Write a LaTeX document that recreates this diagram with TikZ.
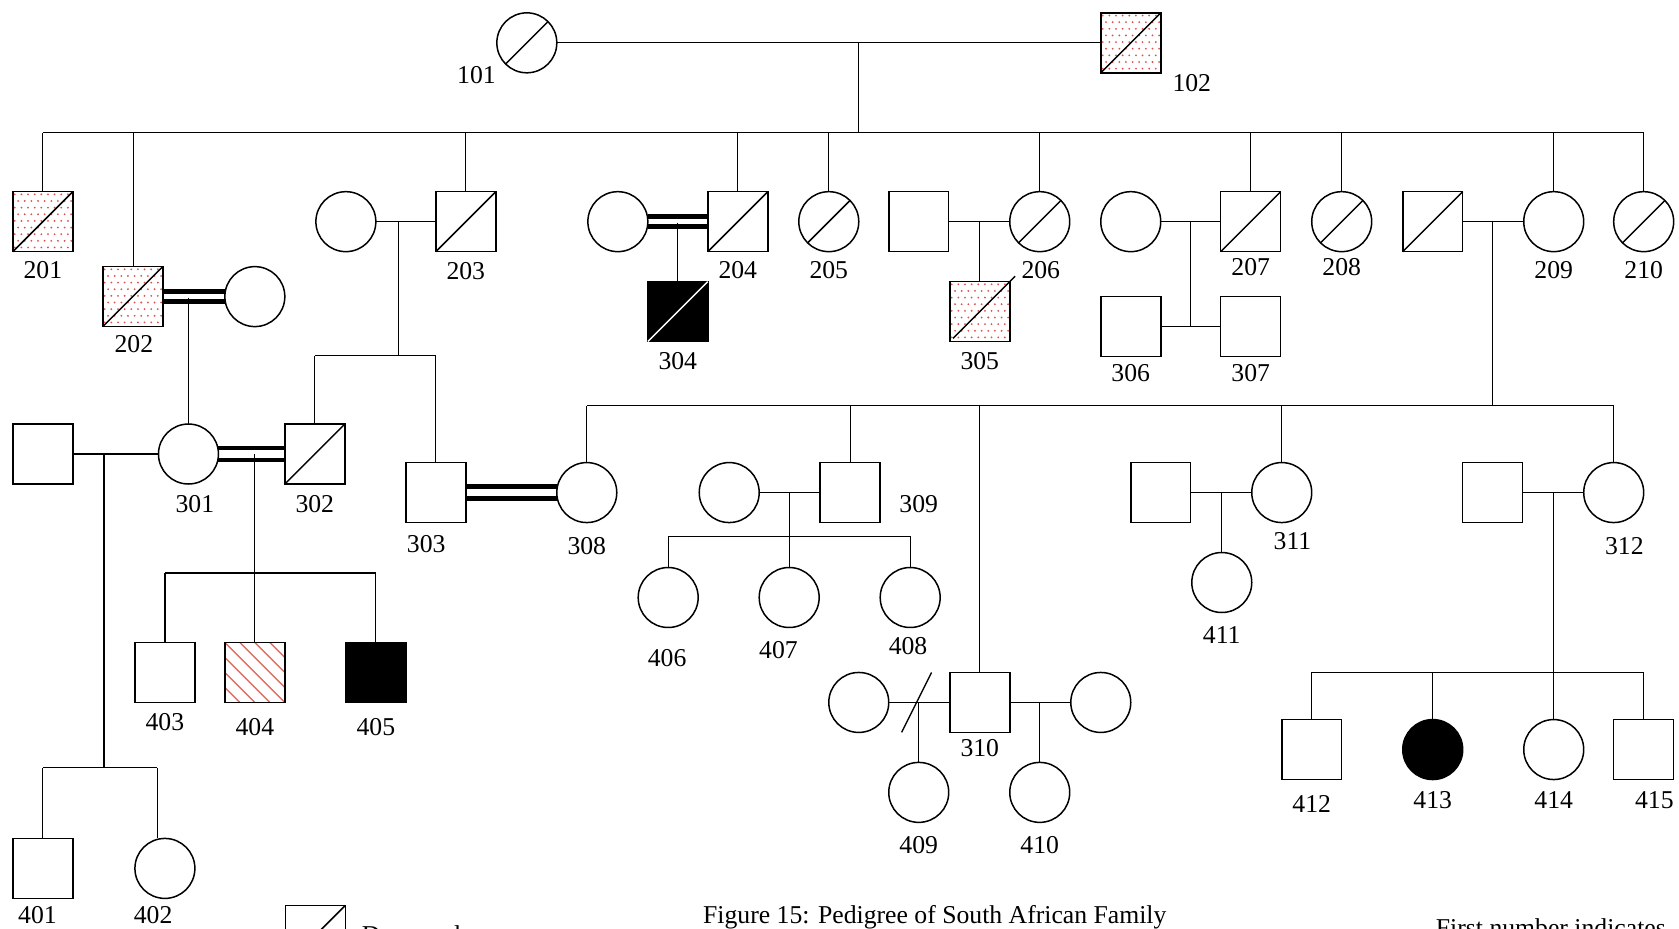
\documentclass[tikz,border=0pt]{standalone}
\usepackage{fontspec}
\setmainfont{Liberation Serif}
\usetikzlibrary{calc}
\definecolor{dotred}{RGB}{222,80,80}
\definecolor{hatchred}{RGB}{225,110,100}
\newcommand\pedDots[1]{%
  \begin{scope}
    \clip (#1.south west) rectangle (#1.north east);
    \foreach \r in {0,...,9}{
      \foreach \c in {0,...,9}{
        \fill[dotred] ($(#1.north west)+({\c*6.2+1.8+mod(\r,2)*3.1},{\r*6.2+2.5})$) circle[radius=0.95pt];
      }
    }
  \end{scope}}
\newcommand\pedHatch[1]{%
  \begin{scope}
    \clip (#1.south west) rectangle (#1.north east);
    \foreach \k in {-56,-42,...,56}{
      \draw[hatchred,line width=1.4pt] ($(#1.north west)+(\k,0)$) -- ++(56,56);
    }
  \end{scope}}
\newcommand\pedBox[1]{\draw[symline] (#1.south west) rectangle (#1.north east);}
\newcommand\pedSlash[1]{\draw[symline] (#1.south west) -- (#1.north east);}
\begin{document}
\begin{tikzpicture}[x=1pt,y=-1pt,
  every node/.style={inner sep=0pt, outer sep=0pt},
  symline/.style={line width=1.4pt},
  sq/.style={draw, rectangle, minimum size=56pt, line width=1.4pt, fill=white},
  ci/.style={draw, circle, minimum size=56pt, line width=1.4pt, fill=white},
  lbl/.style={font=\fontsize{24}{28}\selectfont},
  ln/.style={line width=1.2pt},
  cons/.style={line width=4.4pt},
]
\useasboundingbox (0,0) rectangle (1568,867);
\clip (0,0) rectangle (1568,867);
\fill[white] (0,0) rectangle (1568,867);

% ---------- Generation I
\node[ci] (n101) at (492,40) {};
\pedSlash{n101}
\node[sq] (n102) at (1056,40) {};
\pedDots{n102}\pedBox{n102}\pedSlash{n102}

% ---------- Generation II
\node[sq] (n201) at (40,207) {};
\pedDots{n201}\pedBox{n201}\pedSlash{n201}
\node[sq] (n202) at (124,277) {};
\pedDots{n202}\pedBox{n202}\pedSlash{n202}
\node[ci] (s202) at (238,277) {};
\node[sq] (n203) at (435,207) {};
\pedSlash{n203}
\node[ci] (s203) at (323,207) {};
\node[sq] (n204) at (689,207) {};
\pedSlash{n204}
\node[ci] (s204) at (577,207) {};
\node[ci] (n205) at (774,207) {};
\pedSlash{n205}
\node[ci] (n206) at (971,207) {};
\pedSlash{n206}
\node[sq] (s206) at (858,207) {};
\node[sq] (n207) at (1168,207) {};
\pedSlash{n207}
\node[ci] (s207) at (1056,207) {};
\node[ci] (n208) at (1253,207) {};
\pedSlash{n208}
\node[ci] (n209) at (1451,207) {};
\node[sq] (s209) at (1338,207) {};
\pedSlash{s209}
\node[ci] (n210) at (1535,207) {};
\pedSlash{n210}

% ---------- Generation III
\node[ci] (n301) at (176,424) {};
\node[sq] (s301) at (40,424) {};
\node[sq] (n302) at (294,424) {};
\pedSlash{n302}
\node[sq] (n303) at (407,460) {};
\node[sq, fill=black] (n304) at (633,291) {};
\draw[white, line width=1.4pt] (n304.south west) -- (n304.north east);
\node[sq] (n305) at (915,291) {};
\pedDots{n305}\pedBox{n305}
\draw[symline] ($(n305.south west)+(3,-3)$) -- ($(n305.north east)+(5,-5)$);
\node[sq] (n306) at (1056,305) {};
\node[sq] (n307) at (1168,305) {};
\node[ci] (n308) at (548,460) {};
\node[sq] (n309) at (794,460) {};
\node[ci] (s309) at (681,460) {};
\node[sq] (n310) at (915,656) {};
\node[ci] (s310a) at (802,656) {};
\node[ci] (s310b) at (1028,656) {};
\node[ci] (n311) at (1197,460) {};
\node[sq] (s311) at (1084,460) {};
\node[ci] (n312) at (1507,460) {};
\node[sq] (s312) at (1394,460) {};

% ---------- Generation IV
\node[sq] (n401) at (40,811) {};
\node[ci] (n402) at (154,811) {};
\node[sq] (n403) at (154,628) {};
\node[sq] (n404) at (238,628) {};
\pedHatch{n404}\pedBox{n404}
\node[sq, fill=black] (n405) at (351,628) {};
\node[ci] (n406) at (624,558) {};
\node[ci] (n407) at (737,558) {};
\node[ci] (n408) at (850,558) {};
\node[ci] (n409) at (858,740) {};
\node[ci] (n410) at (971,740) {};
\node[ci] (n411) at (1141,544) {};
\node[sq] (n412) at (1225,700) {};
\node[ci, fill=black] (n413) at (1338,700) {};
\node[ci] (n414) at (1451,700) {};
\node[sq] (n415) at (1535,700) {};

% ---------- legend
\node[sq] (leg) at (294.5,873.5) {};
\pedSlash{leg}

% ---------- connectors
% gen I
\draw[ln] (n101) -- (n102);
\coordinate (j1a) at (802,40);
\coordinate (j1b) at (802,124);
\draw[ln] (j1a) -- (j1b);
\coordinate (sibL) at (40,124);
\coordinate (sibR) at (1535,124);
\draw[ln] (sibL) -- (sibR);
\foreach \n in {n201,n203,n204,n205,n206,n207,n208,n209,n210}{
  \draw[ln] (\n) -- (\n |- sibL);
}
\coordinate (d202) at (125,124);
\draw[ln] (d202) -- (d202 |- n202.north);

% 202 family
\draw[cons] ([yshift=4.6pt]n202.east) -- ([yshift=4.6pt]s202.west);
\draw[cons] ([yshift=-4.6pt]n202.east) -- ([yshift=-4.6pt]s202.west);
\coordinate (m202) at (176,278);
\draw[ln] (m202) -- (n301);

% 203 family
\draw[ln] (s203) -- (n203);
\coordinate (m203) at (372,207);
\coordinate (k203) at (372,332);
\draw[ln] (m203) -- (k203);
\draw[ln] (n302 |- k203) -- (n303 |- k203);
\draw[ln] (n302) -- (n302 |- k203);
\draw[ln] (n303) -- (n303 |- k203);

% 204 family
\draw[cons] ([yshift=4.8pt]s204.east) -- ([yshift=4.8pt]n204.west);
\draw[cons] ([yshift=-4.8pt]s204.east) -- ([yshift=-4.8pt]n204.west);
\coordinate (m204) at (633,208);
\draw[ln] (m204) -- (n304);

% 206 family
\draw[ln] (s206) -- (n206);
\coordinate (m206) at (915,207);
\draw[ln] (m206) -- (n305);

% 207 family
\draw[ln] (s207) -- (n207);
\coordinate (m207) at (1112,207);
\coordinate (k207) at (1112,305);
\draw[ln] (m207) -- (k207);
\draw[ln] (n306) -- (n307);

% 209 family
\draw[ln] (s209) -- (n209);
\coordinate (m209) at (1394,207);
\coordinate (k209) at (1394,379);
\draw[ln] (m209) -- (k209);
\coordinate (sib3L) at (548,379);
\coordinate (sib3R) at (1507,379);
\draw[ln] (sib3L) -- (sib3R);
\foreach \n in {n308,n309,n310,n311,n312}{
  \draw[ln] (\n) -- (\n |- sib3L);
}

% 301 with left spouse
\draw[ln] (s301) -- (n301);
\coordinate (m301) at (97,424);
\coordinate (k301) at (97,717);
\draw[ln] (m301) -- (k301);
\coordinate (k402) at (147,717);
\draw[ln] (n401 |- k301) -- (k402);
\draw[ln] (n401) -- (n401 |- k301);
\draw[ln] (k402) -- (k402 |- n402.north);

% 301 x 302
\draw[cons] ([yshift=5.5pt]n301.east) -- ([yshift=5.5pt]n302.west);
\draw[cons] ([yshift=-5.5pt]n301.east) -- ([yshift=-5.5pt]n302.west);
\coordinate (m302) at (238,424);
\coordinate (k302) at (238,535);
\draw[ln] (m302) -- (k302);
\draw[ln] (n403 |- k302) -- (n405 |- k302);
\foreach \n in {n403,n404,n405}{
  \draw[ln] (\n) -- (\n |- k302);
}

% 303 x 308
\draw[cons] ([yshift=5.5pt]n303.east) -- ([yshift=5.5pt]n308.west);
\draw[cons] ([yshift=-5.5pt]n303.east) -- ([yshift=-5.5pt]n308.west);

% 309 family
\draw[ln] (s309) -- (n309);
\coordinate (m309) at (737,460);
\coordinate (k309) at (737,501);
\draw[ln] (m309) -- (k309);
\draw[ln] (n406 |- k309) -- (n408 |- k309);
\foreach \n in {n406,n407,n408}{
  \draw[ln] (\n) -- (\n |- k309);
}

% 310 families
\draw[ln] (s310a) -- (n310);
\coordinate (dv1) at (842,684);
\coordinate (dv2) at (870,628);
\draw[ln] (dv1) -- (dv2);
\coordinate (m310a) at (858,656);
\draw[ln] (m310a) -- (n409);
\draw[ln] (n310) -- (s310b);
\coordinate (m310b) at (971,656);
\draw[ln] (m310b) -- (n410);

% 311 family
\draw[ln] (s311) -- (n311);
\coordinate (m311) at (1141,460);
\draw[ln] (m311) -- (n411);

% 312 family
\draw[ln] (s312) -- (n312);
\coordinate (m312) at (1451,460);
\draw[ln] (m312) -- (n414);
\coordinate (k312) at (1451,628);
\draw[ln] (n412 |- k312) -- (n415 |- k312);
\foreach \n in {n412,n413,n415}{
  \draw[ln] (\n) -- (\n |- k312);
}

% ---------- labels
\node[lbl] (l101) at (445,70) {101};
\node[lbl] (l102) at (1113,78) {102};
\node[lbl] (l201) at (40,252) {201};
\node[lbl] (l202) at (125,321) {202};
\node[lbl] (l203) at (435,253) {203};
\node[lbl] (l204) at (689,252) {204};
\node[lbl] (l205) at (774,252) {205};
\node[lbl] (l206) at (972,252) {206};
\node[lbl] (l207) at (1168,249) {207};
\node[lbl] (l208) at (1253,249) {208};
\node[lbl] (l209) at (1451,252) {209};
\node[lbl] (l210) at (1535,252) {210};
\node[lbl] (l301) at (182,471) {301};
\node[lbl] (l302) at (294,471) {302};
\node[lbl] (l303) at (398,508) {303};
\node[lbl] (l304) at (633,337) {304};
\node[lbl] (l305) at (915,337) {305};
\node[lbl] (l306) at (1056,348) {306};
\node[lbl] (l307) at (1168,348) {307};
\node[lbl] (l308) at (548,510) {308};
\node[lbl] (l309) at (858,471) {309};
\node[lbl] (l310) at (915,699) {310};
\node[lbl] (l311) at (1207,505) {311};
\node[lbl] (l312) at (1517,510) {312};
\node[lbl] (l401) at (35,855) {401};
\node[lbl] (l402) at (143,855) {402};
\node[lbl] (l403) at (154,674) {403};
\node[lbl] (l404) at (238,679) {404};
\node[lbl] (l405) at (351,679) {405};
\node[lbl] (l406) at (623,615) {406};
\node[lbl] (l407) at (727,607) {407};
\node[lbl] (l408) at (848,603) {408};
\node[lbl] (l409) at (858,789) {409};
\node[lbl] (l410) at (971,789) {410};
\node[lbl] (l411) at (1141,593) {411};
\node[lbl] (l412) at (1225,751) {412};
\node[lbl] (l413) at (1338,747) {413};
\node[lbl] (l414) at (1451,747) {414};
\node[lbl] (l415) at (1545,747) {415};

\node[lbl, anchor=base] (cap) at (873,862) {Figure 15: Pedigree of South African Family};
\node[lbl, anchor=base west] (legtxt) at (338,881) {Deceased};
\node[lbl, anchor=base west] (note) at (1341,875) {First number indicates};
\end{tikzpicture}
\end{document}
